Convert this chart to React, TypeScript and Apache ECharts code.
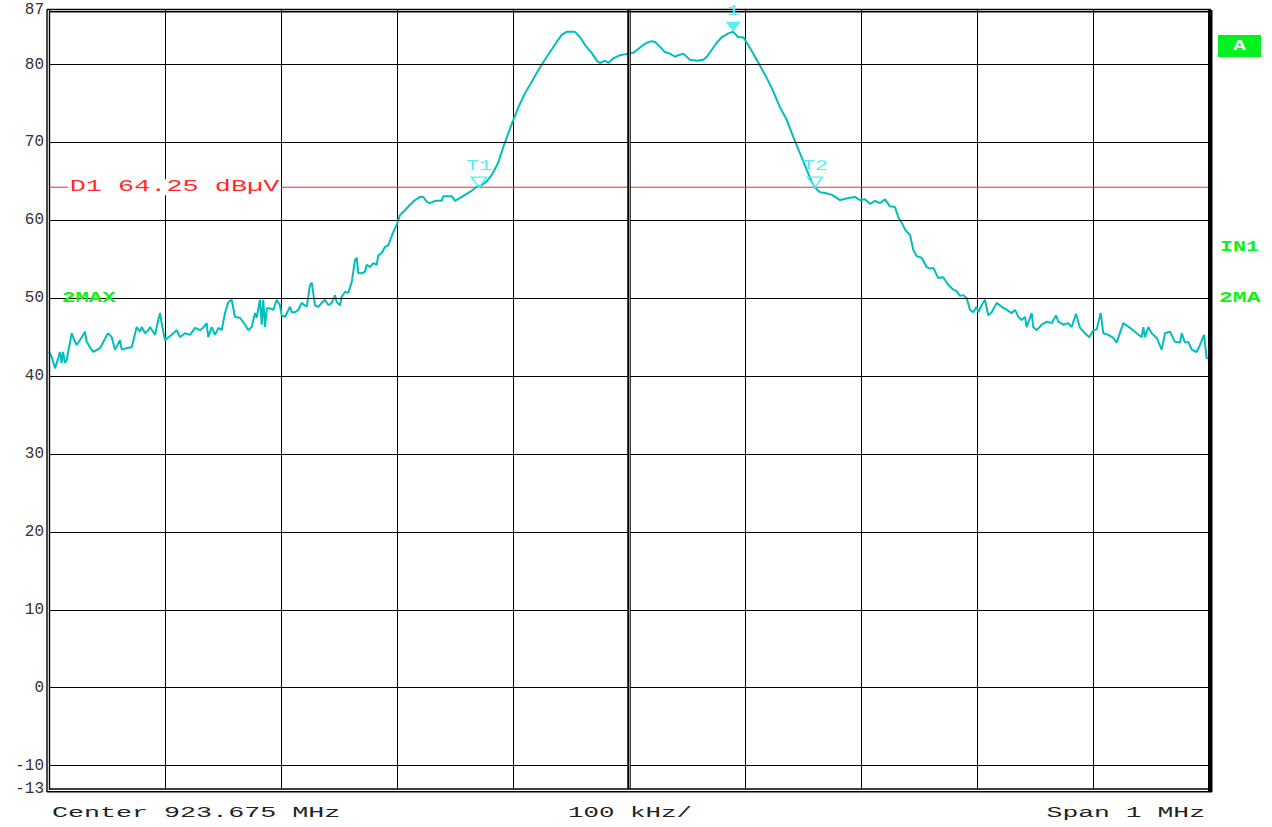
import React, { useEffect, useRef } from "react";
import * as echarts from "echarts";

// Frequency offset from the start of the span (kHz), span = 1 MHz, centre 923.675 MHz
const freqKHz = [
  0, 2.3, 5.2, 9.5, 10.9, 12.1, 13.8, 15.3, 19.6, 22.4,
  23.9, 28.2, 31.0, 32.5, 35.3, 38.2, 44.0, 50.9, 54.1, 56.9,
  61.2, 62.7, 67.0, 71.3, 75.6, 78.4, 79.9, 82.8, 85.6, 87.1,
  91.4, 94.2, 95.7, 97.1, 100, 105.8, 110.1, 112.9, 117.2, 121.6,
  125.9, 130.2, 132.8, 135.9, 137.3, 140.3, 143.1, 146.0, 148.9, 151.7,
  154.6, 157.5, 160.3, 164.7, 169.0, 171.8, 174.7, 177.6, 179.0, 181.9,
  183.4, 184.7, 186.2, 187.7, 190.5, 193.4, 196.3, 199.1, 200.6, 203.4,
  207.8, 209.2, 212.1, 214.9, 217.8, 222.2, 225.0, 226.5, 229.3, 232.2,
  235.1, 237.9, 240.8, 243.7, 246.6, 248.0, 250.9, 252.3, 255.2, 258.0,
  260.9, 263.8, 265.3, 266.6, 269.6, 272.4, 273.9, 276.7, 279.6, 282.5,
  283.9, 286.8, 289.7, 292.5, 296.8, 299.7, 302.6, 306.9, 311.2, 315.5,
  319.8, 322.7, 325.6, 328.4, 332.8, 338.5, 339.9, 347.2, 350.0, 355.8,
  360.1, 364.4, 368.7, 373.0, 377.3, 381.6, 387.3, 391.6, 396.0, 400.3,
  404.6, 410.3, 414.7, 420.4, 426.1, 431.9, 437.7, 442.0, 446.3, 453.4,
  457.8, 462.1, 467.8, 472.2, 475.0, 479.3, 482.2, 486.5, 492.2, 499.4,
  503.7, 508.0, 512.3, 515.3, 519.6, 522.4, 526.7, 531.0, 535.3, 539.7,
  542.5, 546.8, 549.8, 552.6, 558.4, 564.1, 567.1, 571.4, 575.6, 579.9,
  585.6, 589.9, 594.2, 598.5, 602.8, 610.1, 617.2, 623.0, 630.2, 636.0,
  641.6, 647.4, 653.2, 657.5, 660.3, 664.7, 669.0, 674.7, 681.9, 690.5,
  694.8, 699.1, 703.4, 707.8, 712.1, 716.4, 720.7, 725.0, 729.3, 732.2,
  735.1, 738.0, 742.3, 745.1, 748.0, 752.3, 756.6, 759.5, 762.3, 766.6,
  770.9, 775.3, 779.6, 782.5, 785.3, 788.2, 791.1, 794.0, 796.8, 799.7,
  801.1, 804.0, 806.9, 809.7, 812.7, 817.0, 821.3, 825.6, 829.9, 832.8,
  835.6, 838.5, 841.4, 842.8, 847.2, 848.5, 851.5, 855.8, 860.1, 864.4,
  868.1, 870.1, 874.4, 878.7, 881.6, 885.3, 888.8, 893.1, 896.8, 900.3,
  903.2, 906.6, 908.9, 913.2, 917.5, 920.4, 926.1, 931.9, 937.7, 942.0,
  943.4, 944.8, 947.7, 950.6, 954.9, 959.2, 962.1, 966.4, 970.7, 975.0,
  976.5, 979.3, 982.2, 985.1, 989.4, 992.2, 995.7, 998.0, 1000,
];

// Level (dBµV)
const levelDb = [
  43.1, 42.5, 41.0, 43.1, 41.7, 43.1, 41.7, 42.1, 45.5, 44.4,
  44.0, 45.0, 45.7, 44.4, 43.7, 43.1, 43.6, 45.5, 45.0, 43.4,
  44.6, 43.4, 43.6, 43.7, 46.3, 45.7, 46.3, 45.5, 45.9, 46.3,
  45.3, 47.2, 48.1, 46.8, 44.6, 45.3, 45.9, 45.0, 45.5, 45.3,
  46.2, 45.9, 46.2, 46.8, 45.0, 46.3, 45.3, 46.2, 45.9, 48.1,
  49.5, 49.8, 47.6, 47.5, 46.6, 45.9, 46.3, 48.1, 47.5, 49.8,
  46.6, 49.8, 46.3, 48.7, 48.7, 48.5, 49.8, 49.1, 47.8, 47.6,
  48.9, 48.2, 48.2, 48.5, 49.4, 48.9, 51.7, 52.0, 49.1, 48.9,
  49.4, 49.8, 49.1, 49.4, 50.4, 49.5, 49.1, 50.2, 50.8, 50.7,
  52.0, 54.9, 55.2, 53.2, 53.2, 53.4, 54.3, 54.0, 54.5, 54.3,
  55.5, 55.8, 56.6, 56.8, 58.5, 59.4, 60.7, 61.3, 62.0, 62.6,
  63.0, 63.0, 62.4, 62.2, 62.5, 62.5, 63.1, 63.1, 62.5, 63.0,
  63.4, 63.8, 64.3, 64.5, 65.0, 65.8, 67.4, 69.4, 71.2, 72.9,
  74.5, 76.3, 77.4, 78.9, 80.3, 81.6, 82.9, 83.8, 84.2, 84.2,
  83.5, 82.5, 81.5, 80.5, 80.2, 80.5, 80.2, 80.8, 81.2, 81.4,
  81.5, 82.0, 82.5, 82.8, 83.0, 82.9, 82.3, 81.6, 81.4, 81.0,
  81.2, 81.4, 81.0, 80.6, 80.5, 80.6, 81.0, 81.9, 82.8, 83.5,
  84.0, 84.2, 83.5, 83.5, 82.5, 80.6, 78.7, 77.0, 74.5, 72.9,
  70.7, 68.6, 66.5, 64.9, 64.2, 63.6, 63.5, 63.3, 62.6, 62.9,
  63.0, 62.6, 62.7, 62.1, 62.5, 62.2, 62.7, 61.8, 61.7, 60.4,
  59.7, 58.8, 58.1, 56.2, 55.4, 55.2, 54.0, 53.8, 53.9, 52.6,
  52.7, 51.7, 51.1, 50.9, 50.3, 50.4, 50.0, 48.5, 48.2, 48.9,
  48.2, 49.1, 49.8, 47.8, 48.2, 49.4, 48.9, 48.5, 48.1, 48.5,
  47.6, 47.2, 47.6, 46.3, 48.1, 46.3, 45.9, 46.6, 47.0, 46.8,
  47.8, 47.0, 46.6, 46.8, 46.3, 48.0, 46.2, 45.5, 45.0, 45.9,
  46.0, 48.1, 45.5, 45.3, 44.9, 44.3, 46.8, 46.2, 45.5, 45.0,
  46.3, 45.0, 46.3, 45.5, 44.9, 43.4, 45.5, 45.7, 44.4, 44.3,
  45.5, 44.3, 44.4, 43.4, 43.1, 44.0, 45.3, 42.3, 42.3,
];

const yTickLabels = [87, 80, 70, 60, 50, 40, 30, 20, 10, 0, -10, -13];
const hGridLevels = [80, 70, 60, 50, 40, 30, 20, 10, 0, -10];
const yMin = -13;
const yMax = 87;
const spanKHz = 1000;
const divKHz = 100;
const centreKHz = 500;

const refLevel = 64.25;
const refLabel = "D1 64.25 dBµV";

const markerNames = ["1", "T1", "T2"];
const markerFreq = [589.9, 370.7, 660.3];
const markerLevel = [84.2, 64.25, 64.25];
const markerFilled = [true, false, false];

const centerText = "Center 923.675 MHz";
const divText = "100 kHz/";
const spanText = "Span 1 MHz";
const traceLabel = "2MAX";
const sideLabels = ["IN1", "2MA"];

export default function App() {
  const ref = useRef<HTMLDivElement>(null);

  useEffect(() => {
    const el = ref.current;
    if (!el) return;
    const chart = echarts.init(el, null, { renderer: "svg" });
    const mono = "'Liberation Mono', 'DejaVu Sans Mono', monospace";
    const data = freqKHz.map((f, i) => [f, levelDb[i]]);
    const cyan = "#00BEBE";
    const markerCyan = "#55F0F0";
    const green = "#12F012";
    const red = "#FF2A2A";

    chart.setOption({
      animation: false,
      backgroundColor: "#ffffff",
      grid: { left: 49, top: 10, width: 1160, height: 779, containLabel: false },
      xAxis: {
        type: "value",
        min: 0,
        max: spanKHz,
        interval: divKHz,
        axisLine: { show: false },
        axisTick: { show: false },
        axisLabel: { show: false },
        splitLine: { show: true, lineStyle: { color: "#000", width: 1 } },
      },
      yAxis: {
        type: "value",
        min: yMin,
        max: yMax,
        axisLine: { show: false },
        axisTick: { show: false },
        splitLine: { show: false },
        axisLabel: {
          customValues: yTickLabels,
          fontFamily: mono,
          fontSize: 16,
          color: "#333",
          margin: 5,
        },
      },
      series: [
        {
          type: "line",
          data: [],
          silent: true,
          z: 1,
          markLine: {
            silent: true,
            animation: false,
            symbol: ["none", "none"],
            label: { show: false },
            lineStyle: { color: "#000", width: 1, type: "solid" },
            data: hGridLevels.map((v) => ({ yAxis: v })),
          },
        },
        {
          type: "line",
          data: [],
          silent: true,
          z: 1,
          markLine: {
            silent: true,
            animation: false,
            symbol: ["none", "none"],
            label: { show: false },
            data: [
              { xAxis: centreKHz, lineStyle: { color: "#000", width: 3.5, type: "solid" } },
              { xAxis: centreKHz, lineStyle: { color: "#9a9a9a", width: 1, type: "solid" } },
            ],
          },
        },
        {
          // display line D1
          type: "line",
          data: [
            [0, refLevel],
            [spanKHz, refLevel],
          ],
          silent: true,
          showSymbol: false,
          z: 2,
          lineStyle: { color: red, width: 1, type: "solid" },
          itemStyle: { color: red },
        },
        {
          type: "line",
          data,
          showSymbol: false,
          silent: true,
          z: 3,
          lineStyle: { color: cyan, width: 2 },
          itemStyle: { color: cyan },
          markPoint: {
            silent: true,
            animation: false,
            label: { show: false },
            data: markerNames.map((n, i) => ({
              name: n,
              coord: [markerFreq[i], markerLevel[i]],
              symbol: "triangle",
              symbolSize: [15, 10],
              symbolRotate: 180,
              symbolOffset: [0, -5],
              itemStyle: {
                color: markerFilled[i] ? markerCyan : "rgba(255,255,255,0)",
                borderColor: markerCyan,
                borderWidth: markerFilled[i] ? 0 : 1.5,
              },
            })),
          },
        },
      ],
    });

    const toPx = (f: number, l: number) =>
      chart.convertToPixel({ xAxisIndex: 0, yAxisIndex: 0 }, [f, l]) as number[];

    const txt = (
      x: number,
      y: number,
      text: string,
      font: string,
      fill: string,
      align: string,
      sx: number,
      extra: any = {}
    ) => ({
      type: "text",
      x,
      y,
      scaleX: sx,
      scaleY: 1,
      z: 10,
      silent: true,
      style: {
        text,
        x: 0,
        y: 0,
        font,
        fill,
        align,
        verticalAlign: "middle",
        textAlign: align,
        textVerticalAlign: "middle",
        ...extra,
      },
    });

    const graphics: any[] = [];
    // frame
    const blk = { stroke: "#000", lineWidth: 1.4 };
    graphics.push({ type: "line", silent: true, z: 5, shape: { x1: 47, y1: 9.5, x2: 47, y2: 792 }, style: blk });
    graphics.push({ type: "line", silent: true, z: 5, shape: { x1: 49.5, y1: 11.5, x2: 49.5, y2: 790 }, style: blk });
    graphics.push({ type: "line", silent: true, z: 5, shape: { x1: 47, y1: 9.5, x2: 1211, y2: 9.5 }, style: blk });
    graphics.push({ type: "line", silent: true, z: 5, shape: { x1: 49.5, y1: 11.8, x2: 1209, y2: 11.8 }, style: blk });
    graphics.push({ type: "line", silent: true, z: 5, shape: { x1: 49.5, y1: 789, x2: 1209, y2: 789 }, style: blk });
    graphics.push({ type: "line", silent: true, z: 5, shape: { x1: 47, y1: 791.8, x2: 1212, y2: 791.8 }, style: blk });
    graphics.push({ type: "rect", silent: true, z: 5, shape: { x: 1208, y: 10, width: 4.5, height: 782 }, style: { fill: "#000" } });

    // reference line label
    const refPx = toPx(0, refLevel);
    graphics.push(
      txt(refPx[0] + 19, refPx[1], refLabel, `16px ${mono}`, red, "left", 1.68, {
        backgroundColor: "#ffffff",
        padding: [0, 1, 0, 1],
      })
    );

    // marker labels
    markerNames.forEach((n, i) => {
      const p = toPx(markerFreq[i], markerLevel[i]);
      graphics.push(txt(p[0], p[1] - 21, n, `15px ${mono}`, markerCyan, "center", 1.45));
    });

    // trace label at the 50 dB line
    const tl = toPx(0, 50);
    graphics.push(txt(tl[0] + 13, tl[1], traceLabel, `bold 14px ${mono}`, green, "left", 1.6));
    graphics.push(txt(1219, tl[1], sideLabels[1], `bold 14px ${mono}`, green, "left", 1.65));
    graphics.push(txt(1220, 247, sideLabels[0], `bold 14px ${mono}`, green, "left", 1.55));

    // "A" box
    graphics.push({ type: "rect", silent: true, z: 10, shape: { x: 1218, y: 35, width: 43, height: 22 }, style: { fill: "#00F020" } });
    graphics.push(txt(1239.5, 46, "A", `bold 14px ${mono}`, "#ffffff", "center", 1.5));

    // bottom annotations
    graphics.push(txt(52, 813, centerText, `15px ${mono}`, "#222", "left", 1.78));
    graphics.push(txt(630, 813, divText, `15px ${mono}`, "#222", "center", 1.72));
    graphics.push(txt(1205, 813, spanText, `15px ${mono}`, "#222", "right", 1.76));

    chart.setOption({ graphic: graphics });

    return () => {
      chart.dispose();
    };
  }, []);

  return (
    <div
      ref={ref}
      style={{ position: "absolute", left: 0, top: 0, width: 1272, height: 827, background: "#fff" }}
    />
  );
}
